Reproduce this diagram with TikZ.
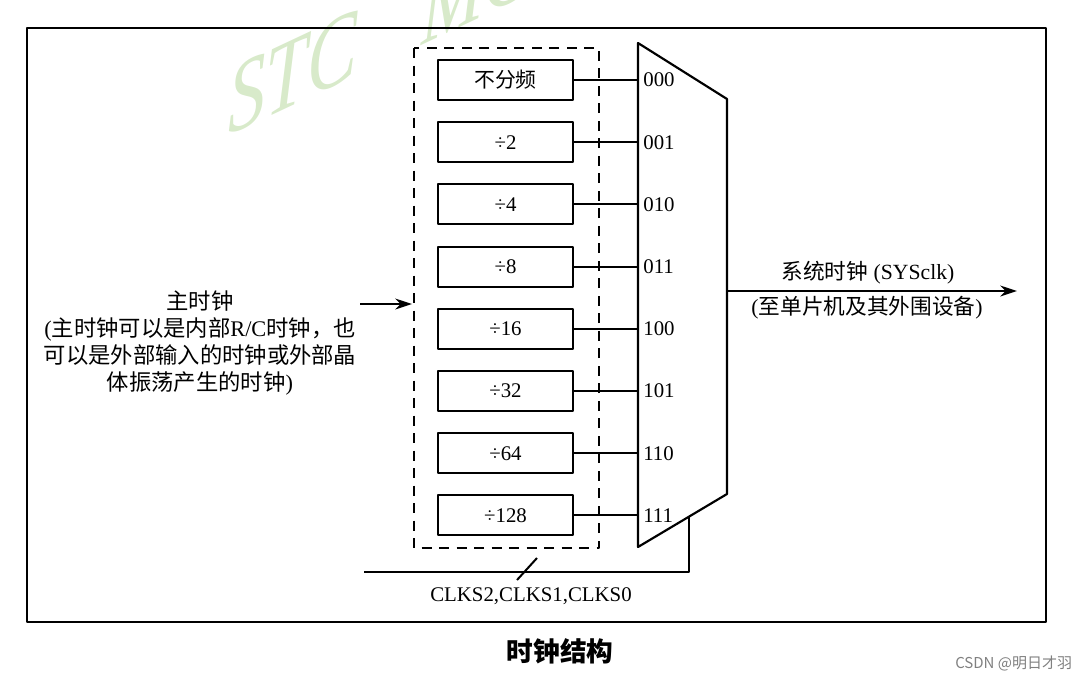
\documentclass[tikz,border=0pt]{standalone}
\usepackage{fontspec}
\usetikzlibrary{arrows.meta}
\setmainfont{Liberation Serif}
\newfontfamily\cjk{Noto Sans CJK SC}
\definecolor{wmgreen}{RGB}{216,234,202}
\begin{document}
\begin{tikzpicture}[x=0.6pt,y=-0.6pt,>={Stealth[length=10pt,width=6.5pt]}, line join=round,
	font=\fontsize{12.5}{15}\selectfont,
	divbox/.style={draw, line width=1.2pt, minimum width=81pt, minimum height=24pt, inner sep=0pt},
	wire/.style={line width=1.2pt}]
	\useasboundingbox (0,0) rectangle (1091,681);
	\clip (0,0) rectangle (1091,681);
	% watermark
	\node[anchor=base west, inner sep=0pt, yslant=0.47, xscale=0.75, text=wmgreen, font=\fontsize{60}{64}\selectfont\itshape] (wm) at (228,136) {STC\hspace{0.85em}MCU};
	% outer frame
	\draw[line width=1.3pt] (27,28) rectangle (1046,622);
	% dashed group
	\draw[line width=1pt, dash pattern=on 6pt off 4.5pt] (414,48) rectangle (599,548);
	% multiplexer
	\draw[line width=1.3pt] (638,43) coordinate (mt) -- (727,99) -- (727,494) -- (638,547) coordinate (mb) -- cycle;
	% dividers and select codes
	\foreach \t/\s [count=\i from 0] in {{\cjk 不分频}/000, ÷2/001, ÷4/010, ÷8/011, ÷16/100, ÷32/101, ÷64/110, ÷128/111}{
		\pgfmathsetmacro{\yy}{80+\i*62.2}
		\node[divbox] (d\i) at (505.5,\yy) {\t};
		\coordinate (m\i) at (638,\yy);
		\draw[wire] (d\i.east) -- (m\i);
		\node[anchor=west, inner sep=0pt] (c\i) at (643,\yy) {\s};
	}
	% input clock
	\coordinate (inl) at (360,304); \coordinate (inr) at (412,304);
	\draw[wire,->] (inl) -- (inr);
	\node[align=center, font=\fontsize{13.4}{16.3}\selectfont] (main) at (200,343)
		{{\cjk 主时钟}\\({\cjk 主时钟可以是内部}R/C{\cjk 时钟，也}\\{\cjk 可以是外部输入的时钟或外部晶}\\{\cjk 体振荡产生的时钟})};
	% output clock
	\coordinate (out) at (727,291); \coordinate (sys) at (1017,291);
	\draw[wire,->] (out) -- (sys);
	\node[font=\fontsize{13}{15}\selectfont] (sysclk) at (868,273) {{\cjk 系统时钟} (SYSclk)};
	\node[font=\fontsize{13}{15}\selectfont] (periph) at (867,308) {({\cjk 至单片机及其外围设备})};
	% select bus
	\coordinate (sel) at (689,517); \coordinate (bus) at (364,572);
	\draw[wire] (bus) -| (sel);
	\coordinate (sa) at (517,580); \coordinate (sb) at (537,558);
	\draw[wire] (sa) -- (sb);
	\node (clks) at (531,596) {CLKS2,CLKS1,CLKS0};
	% caption
	\node[font=\fontsize{16}{18}\selectfont\cjk\bfseries] (cap) at (560,651) {时钟结构};
	\node[anchor=east, text=gray, font=\fontsize{9}{10}\selectfont\cjk] (csdn) at (1078,663) {CSDN @明日才羽};
\end{tikzpicture}
\end{document}
